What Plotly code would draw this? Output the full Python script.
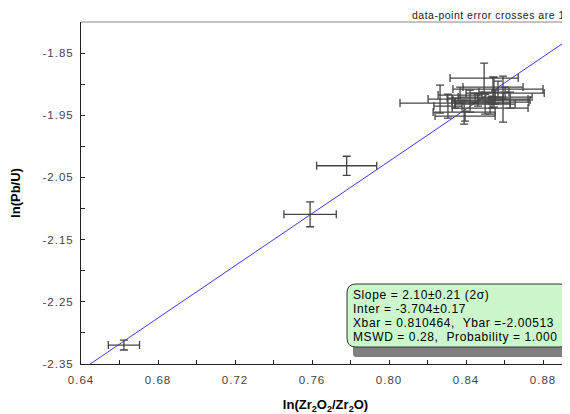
import plotly.graph_objects as go

# ---- data ----
pt_x = [0.6623, 0.7590, 0.7780,
        0.8494, 0.8265, 0.8390, 0.8343, 0.8566, 0.8603, 0.8592, 0.8545, 0.8525,
        0.8535, 0.8551, 0.8540, 0.8421, 0.8306, 0.8395, 0.8462, 0.8499, 0.8447,
        0.8629, 0.8369]
pt_y = [-2.3195, -2.1093, -2.0312,
        -1.8902, -1.9240, -1.9449, -1.9304, -1.9079, -1.9143, -1.9240, -1.9127, -1.9384,
        -1.9288, -1.9207, -1.9047, -1.9272, -1.9352, -1.9513, -1.9256, -1.9320, -1.9223,
        -1.9256, -1.9175]
err_x = [0.0081, 0.0136, 0.0156,
         0.0177, 0.0062, 0.0161, 0.0286, 0.0234, 0.0203, 0.0130, 0.0078, 0.0197,
         0.0192, 0.0192, 0.0156, 0.0094, 0.0073, 0.0156, 0.0130, 0.0156, 0.0145,
         0.0104, 0.0114]
err_y = [0.0080, 0.0200, 0.0153,
         0.0241, 0.0225, 0.0193, 0.0080, 0.0129, 0.0096, 0.0370, 0.0241, 0.0096,
         0.0096, 0.0113, 0.0161, 0.0177, 0.0193, 0.0080, 0.0096, 0.0161, 0.0080,
         0.0129, 0.0129]

slope = 2.10
intercept = -3.704
line_x = [0.62, 0.90]

x_range = [0.64, 0.894]
y_range = [-2.35, -1.80]

x_tickvals = [0.64, 0.68, 0.72, 0.76, 0.80, 0.84, 0.88]
y_tickvals = [-2.35, -2.25, -2.15, -2.05, -1.95, -1.85]

stats_lines = [
    "Slope = 2.10±0.21 (2σ)",
    "Inter = -3.704±0.17",
    "Xbar = 0.810464,  Ybar =-2.00513",
    "MSWD = 0.28,  Probability = 1.000",
]
note_text = "data-point error crosses are 1σ"

# ---- layout geometry (pixels; page has an 8px body margin) ----
OFF = 8
W, H = 570 - OFF, 414 - OFF
L, R, T, B = 81 - OFF, 0, 22 - OFF, 414 - 364
pw, ph = W - L - R, H - T - B

def px(x):
    return (x - OFF - L) / pw

def py(y):
    return (H - B - (y - OFF)) / ph

def rrect(x0, y0, x1, y1, r):
    rx, ry = r / pw, r / ph
    X0, X1 = px(x0), px(x1)
    Y0, Y1 = py(y0), py(y1)  # Y0 top, Y1 bottom
    return (f"M {X0+rx},{Y0} L {X1-rx},{Y0} Q {X1},{Y0} {X1},{Y0-ry} "
            f"L {X1},{Y1+ry} Q {X1},{Y1} {X1-rx},{Y1} "
            f"L {X0+rx},{Y1} Q {X0},{Y1} {X0},{Y1+ry} "
            f"L {X0},{Y0-ry} Q {X0},{Y0} {X0+rx},{Y0} Z")

def spaced(s, ls):
    return f'<span style="letter-spacing:{ls}px">{s}</span>'

font = "Arial, Liberation Sans, sans-serif"

fig = go.Figure()

fig.add_trace(go.Scatter(
    x=line_x, y=[slope * v + intercept for v in line_x],
    mode="lines", line=dict(color="#3a3aff", width=1), hoverinfo="skip"))

fig.add_trace(go.Scatter(
    x=pt_x, y=pt_y, mode="markers",
    marker=dict(size=1, color="#444444"),
    error_x=dict(type="data", array=err_x, color="#444444", thickness=1.3, width=4),
    error_y=dict(type="data", array=err_y, color="#444444", thickness=1.3, width=4),
))

shapes = [
    # top border
    dict(type="line", xref="paper", yref="paper", x0=0, x1=1.0, y0=1, y1=1,
         line=dict(color="#888888", width=1)),
    # shadow
    dict(type="path", xref="paper", yref="paper", path=rrect(353, 294, 576, 357, 3),
         fillcolor="#808080", line=dict(width=0), layer="above"),
    # box
    dict(type="path", xref="paper", yref="paper", path=rrect(347, 284, 569, 347, 9),
         fillcolor="#ccf7cc", line=dict(color="#333333", width=1), layer="above"),
]

annotations = [
    dict(xref="paper", yref="paper", x=px(410), y=py(15), xanchor="left", yanchor="middle",
         text=spaced(note_text, 0.5), showarrow=False,
         font=dict(family=font, size=10.5, color="#222222")),
]
for i, s in enumerate(stats_lines):
    annotations.append(dict(
        xref="paper", yref="paper", x=px(351), y=py(295 + 14 * i),
        xanchor="left", yanchor="middle", text=spaced(s, 0.6), showarrow=False,
        font=dict(family=font, size=12, color="#000000")))

fig.update_layout(
    width=W, height=H, margin=dict(l=L, r=R, t=T, b=B),
    paper_bgcolor="white", plot_bgcolor="white", showlegend=False,
    font=dict(family=font, size=11, color="#333333"),
    shapes=shapes, annotations=annotations,
    xaxis=dict(range=x_range, showgrid=False, zeroline=False, showline=True,
               automargin=False,
               linecolor="#222222", linewidth=1, ticks="inside", ticklen=4,
               tickcolor="#222222", tickvals=x_tickvals,
               ticktext=[spaced(f"{v:.2f}", 1) for v in x_tickvals],
               ticklabelstandoff=5,
               minor=dict(dtick=0.02, tick0=0.64, ticks="inside", ticklen=4,
                          tickcolor="#222222"),
               tickfont=dict(size=11.5, color="#444444"),
               title=dict(text="<b>ln(Zr<sub>2</sub>O<sub>2</sub>/Zr<sub>2</sub>O)</b>",
                          font=dict(size=13, color="#000000"), standoff=15)),
    yaxis=dict(range=y_range, showgrid=False, zeroline=False, showline=True,
               automargin=False,
               linecolor="#222222", linewidth=1, ticks="inside", ticklen=4,
               tickcolor="#222222", tickvals=y_tickvals,
               ticktext=[spaced(f"{v:.2f}", 1) for v in y_tickvals],
               ticklabelstandoff=4,
               minor=dict(dtick=0.05, tick0=-2.35, ticks="inside", ticklen=4,
                          tickcolor="#222222"),
               tickfont=dict(size=11.5, color="#444444"),
               title=dict(text="<b>ln(Pb/U)</b>", font=dict(size=13, color="#000000"),
                          standoff=22)),
)

fig.write_html("out.html")
